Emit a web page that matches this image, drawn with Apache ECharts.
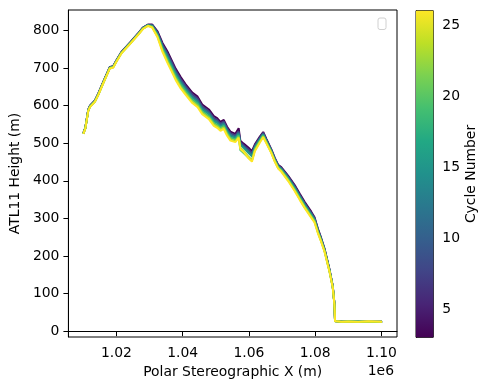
<!DOCTYPE html>
<html><head><meta charset="utf-8">
<script src="https://cdn.jsdelivr.net/npm/echarts@6/dist/echarts.min.js"></script>
<style>html,body{margin:0;padding:0;background:#fff}#c{width:489px;height:390px}</style>
</head><body><div id="c"></div>
<script>
// Polar stereographic X positions (m), shared by all cycles
const xPos = [1010000,1010600,1011500,1012000,1013500,1014500,1016000,1018000,1019000,1020000,
1021500,1024000,1026500,1028000,1029500,1030800,1032400,1033900,1035400,1036400,
1037900,1039400,1040900,1042900,1044500,1045900,1047900,1049400,1050400,1051400,
1052400,1053400,1054400,1055900,1056900,1057400,1058400,1059900,1060900,1061800,
1063300,1064300,1065300,1066800,1067800,1068800,1069800,1071800,1073800,1075300,
1076800,1078800,1079800,1080800,1081800,1082800,1084300,1085300,1085800,1086000,
1088000,1090000,1093000,1096000,1100200];

const cycles = [3,7,11,15,19,23,26];
const height_c3 = [527,541,590,600,614,632,663,703,705,721,743,767,792,808,816,816,798,767,744,726,698,676,657,635,624,603,590,572,567,557,562,544,531,525,540,507,499,488,479,497,518,530,511,483,461,443,436,414,389,366,344,318,303,273,248,220,165,120,74,27,25,25,25,25,25];
const height_c7 = [527,541,589,599,613,631,662,702,704,720,742,766,791,807,815,815,795,763,739,721,693,671,652,630,619,598,585,567,562,553,558,540,527,521,532,503,495,483,474,494,515,528,509,481,459,441,434,412,386,363,341,315,301,271,246,219,164,119,74,27,25,24,25,25,25];
const height_c11 = [526,540,589,599,613,631,662,702,704,720,742,766,791,807,815,813,792,759,734,716,688,666,647,625,614,594,581,563,558,549,554,536,523,517,528,499,491,478,469,491,512,525,507,480,458,440,432,409,383,360,338,312,298,269,245,217,163,119,73,26,26,25,25,24,25];
const height_c15 = [526,540,588,598,612,630,661,701,703,719,741,765,790,806,814,812,790,755,729,711,683,661,643,621,610,590,577,559,554,545,550,532,519,514,525,496,488,474,465,488,510,523,505,478,456,438,430,407,381,358,336,310,296,267,243,216,162,118,73,27,25,25,26,25,25];
const height_c19 = [526,540,587,597,611,629,660,700,702,718,740,764,789,805,813,811,787,751,724,706,678,656,638,616,605,585,572,554,549,541,546,528,515,510,521,482,474,461,454,485,507,521,503,476,454,436,428,405,378,355,333,307,294,265,241,215,161,117,73,26,24,25,25,25,24];
const height_c23 = [525,539,587,597,611,629,660,700,702,718,740,764,789,805,813,809,784,747,718,700,672,650,633,611,600,581,568,550,545,537,542,524,511,506,517,488,480,464,455,482,504,518,501,474,452,434,426,402,375,352,330,304,291,263,239,213,160,117,72,27,25,26,24,25,25];
const height_c26 = [525,539,586,596,610,628,659,699,701,717,739,763,788,804,812,808,782,743,714,696,668,646,629,607,596,577,564,546,541,533,538,520,507,503,514,485,477,460,451,479,502,516,499,473,451,433,424,400,373,350,328,302,289,261,238,212,159,116,72,26,25,25,25,26,25];
const heights = [height_c3,height_c7,height_c11,height_c15,height_c19,height_c23,height_c26];

const xTicks = [1020000,1040000,1060000,1080000,1100000];
const yTicks = [0,100,200,300,400,500,600,700,800];
const cbTicks = [5,10,15,20,25];
const cycleRange = [3,26];

const viridis = ['#440154','#482475','#414487','#355f8d','#2a788e','#21918c','#22a884','#44bf70','#7ad151','#bddf26','#fde725'];
function hex(c){return [parseInt(c.slice(1,3),16),parseInt(c.slice(3,5),16),parseInt(c.slice(5,7),16)];}
function cmap(t){
  t=Math.max(0,Math.min(1,t));
  const p=t*(viridis.length-1), i=Math.min(Math.floor(p),viridis.length-2), f=p-i;
  const a=hex(viridis[i]), b=hex(viridis[i+1]);
  return 'rgb('+a.map((v,k)=>Math.round(v+(b[k]-v)*f)).join(',')+')';
}
const FONT='DejaVu Sans', FS=13.9, TC='#000';

const chart = echarts.init(document.getElementById('c'), null, {renderer:'canvas'});
const lineSeries = cycles.map((c,k)=>({
  type:'line', xAxisIndex:0, yAxisIndex:0, name:'Cycle '+c,
  data: xPos.map((x,i)=>[x, heights[k][i]]),
  showSymbol:false, symbol:'none', animation:false,
  lineStyle:{width:2, color:cmap((c-cycleRange[0])/(cycleRange[1]-cycleRange[0]))},
  itemStyle:{color:cmap((c-cycleRange[0])/(cycleRange[1]-cycleRange[0]))},
  z:2+k
}));
const stops = viridis.map((c,i)=>({offset:i/(viridis.length-1), color:c}));
const cbSeries = {
  type:'custom', xAxisIndex:1, yAxisIndex:1, animation:false, silent:true,
  data:[[0,cycleRange[0],1,cycleRange[1]]],
  renderItem:function(params, api){
    const p0=api.coord([0,cycleRange[0]]), p1=api.coord([1,cycleRange[1]]);
    return {type:'rect', shape:{x:p0[0], y:p1[1], width:p1[0]-p0[0], height:p0[1]-p1[1]},
      style:{fill:new echarts.graphic.LinearGradient(0,1,0,0,stops)}};
  }
};
const axisCommon = {
  axisLine:{show:true, lineStyle:{color:'#000', width:1}},
  axisTick:{show:true, inside:false, length:5, lineStyle:{color:'#000', width:1}},
  splitLine:{show:false},
  nameTextStyle:{fontFamily:FONT, fontSize:FS, color:TC}
};
chart.setOption({
  animation:false,
  backgroundColor:'#fff',
  grid:[
    {left:67, top:10, width:330, height:327, show:true, borderColor:'#000', borderWidth:1, backgroundColor:'transparent'},
    {left:416, top:10.7, width:17.3, height:326.6, show:true, borderColor:'#000', borderWidth:1, backgroundColor:'transparent'}
  ],
  xAxis:[
    Object.assign({}, axisCommon, {type:'value', gridIndex:0, min:1005500, max:1104700,
      name:'Polar Stereographic X (m)', nameLocation:'middle', nameGap:27,
      axisTick:Object.assign({}, axisCommon.axisTick, {customValues:xTicks}),
      axisLabel:{customValues:xTicks, margin:9, fontFamily:FONT, fontSize:FS, color:TC,
        formatter:v=>(v/1e6).toFixed(2)}}),
    {type:'value', gridIndex:1, min:0, max:1, show:false}
  ],
  yAxis:[
    Object.assign({}, axisCommon, {type:'value', gridIndex:0, min:-15.6, max:854.6,
      name:'ATL11 Height (m)', nameLocation:'middle', nameGap:44, nameRotate:90,
      axisTick:Object.assign({}, axisCommon.axisTick, {customValues:yTicks}),
      axisLabel:{customValues:yTicks, margin:9, fontFamily:FONT, fontSize:FS, color:TC}}),
    Object.assign({}, axisCommon, {type:'value', gridIndex:1, position:'right', min:cycleRange[0], max:cycleRange[1],
      name:'Cycle Number', nameLocation:'middle', nameGap:31, nameRotate:90,
      axisTick:Object.assign({}, axisCommon.axisTick, {customValues:cbTicks}),
      axisLabel:{customValues:cbTicks, margin:9, fontFamily:FONT, fontSize:FS, color:TC}})
  ],
  graphic:[
    {type:'text', right:95, top:364, style:{text:'1e6', fontFamily:FONT, fontSize:FS, fill:TC}},
    {type:'rect', left:377.5, top:17.5, shape:{width:8, height:11.5, r:2}, style:{fill:'#fff', stroke:'#d0d0d0', lineWidth:1}}
  ],
  series: lineSeries.concat([cbSeries])
});
</script>
</body></html>
